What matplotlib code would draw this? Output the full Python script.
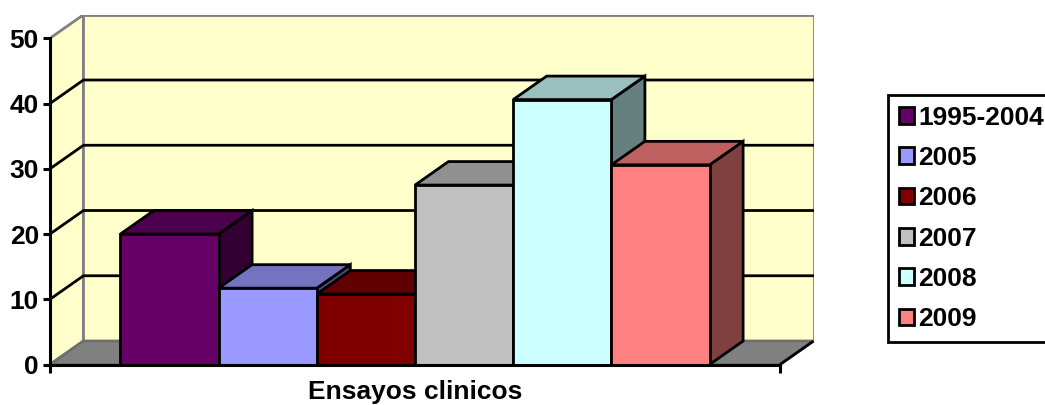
import numpy as np
import matplotlib
matplotlib.use('agg')
from matplotlib import pyplot as plt
from matplotlib.colors import to_rgb
from matplotlib.patches import Polygon, Patch

# data
series = ['1995-2004', '2005', '2006', '2007', '2008', '2009']
values = [20, 11.7, 10.8, 27.5, 40.6, 30.6]
colors = ['#660066', '#9999FF', '#800000', '#C0C0C0', '#CCFFFF', '#FF8080']
category = 'Ensayos clinicos'
yticks = [0, 10, 20, 30, 40, 50]

plt.rcParams['font.family'] = ['Liberation Sans', 'DejaVu Sans']
plt.rcParams['font.weight'] = 'bold'

W, H = 1045, 405
fig = plt.figure(figsize=(W / 100, H / 100), dpi=100)

# 3d-ish geometry (excel style): gap at both ends, depth offset
gap = 0.717
L = len(values) + 2 * gap
dx, dy = 0.341, 3.6
ymax = yticks[-1]
px_x, px_y = 98.2, 6.525
x0, y0 = 50, 364.5
ax = fig.add_axes([x0 / W, (H - y0) / H, (L + dx) * px_x / W, (ymax + dy) * px_y / H])
ax.set_xlim(0, L + dx)
ax.set_ylim(0, ymax + dy)

lw = 2.0
wall = '#FFFFCC'
edge = '#808080'
# side wall, back wall, floor
ax.add_patch(Polygon([(0, 0), (0, ymax), (dx, ymax + dy), (dx, dy)],
                     facecolor=wall, edgecolor=edge, lw=lw, zorder=0))
ax.add_patch(Polygon([(dx, dy), (dx, ymax + dy), (L + dx, ymax + dy), (L + dx, dy)],
                     facecolor=wall, edgecolor=edge, lw=lw, zorder=0))
ax.add_patch(Polygon([(0, 0), (L, 0), (L + dx, dy), (dx, dy)],
                     facecolor='#808080', edgecolor='#6e6e6e', lw=lw, zorder=1))
ax.plot([L, L + dx], [0, dy], color='black', lw=lw, zorder=1.5, solid_capstyle='butt')

# gridlines on side and back wall
for v in yticks[1:-1]:
    ax.plot([0, dx, L + dx], [v, v + dy, v + dy], color='black', lw=lw, zorder=1.2)


def shade(c, f):
    return tuple(np.array(to_rgb(c)) * f)


for i, (v, c) in enumerate(zip(values, colors)):
    xl = gap + i
    xr = xl + 1
    front = [(xl, 0), (xr, 0), (xr, v), (xl, v)]
    top = [(xl, v), (xr, v), (xr + dx, v + dy), (xl + dx, v + dy)]
    side = [(xr, 0), (xr + dx, dy), (xr + dx, v + dy), (xr, v)]
    for pts, f in ((side, 0.5), (top, 0.75), (front, 1.0)):
        ax.add_patch(Polygon(pts, facecolor=shade(c, f), edgecolor='black',
                             lw=lw, joinstyle='miter', zorder=3 + i))

for s in ['top', 'right']:
    ax.spines[s].set_visible(False)
ax.spines['left'].set_bounds(0, ymax)
ax.spines['bottom'].set_bounds(0, L)
for s in ['left', 'bottom']:
    ax.spines[s].set_linewidth(2.2)
    ax.spines[s].set_zorder(10)
ax.patch.set_visible(False)

ax.set_yticks(yticks)
ax.set_yticklabels([str(t) for t in yticks])
ax.set_xticks([0, L])
ax.set_xticklabels(['', ''])
ax.tick_params(axis='y', direction='out', length=5, width=2.2, labelsize=19, pad=3)
ax.tick_params(axis='x', direction='out', length=5.5, width=2.2)
ax.set_xlabel(category, fontsize=19, fontweight='bold')
# centre the label under the front edge, not the whole box
ax.xaxis.set_label_coords(L / 2 / (L + dx), -0.045)

handles = [Patch(facecolor=c, edgecolor='black', lw=2, label=s) for s, c in zip(series, colors)]
leg = fig.legend(handles=handles, loc='upper left', bbox_to_anchor=(888 / W, 1 - 95 / H),
                 frameon=True, fancybox=False, edgecolor='black', framealpha=1,
                 prop={'size': 19, 'weight': 'bold'}, handlelength=0.6, handleheight=0.6,
                 handletextpad=0.15, labelspacing=0.62, borderpad=0.4, borderaxespad=0)
leg.get_frame().set_linewidth(2)

fig.savefig('out.png', dpi=100)
